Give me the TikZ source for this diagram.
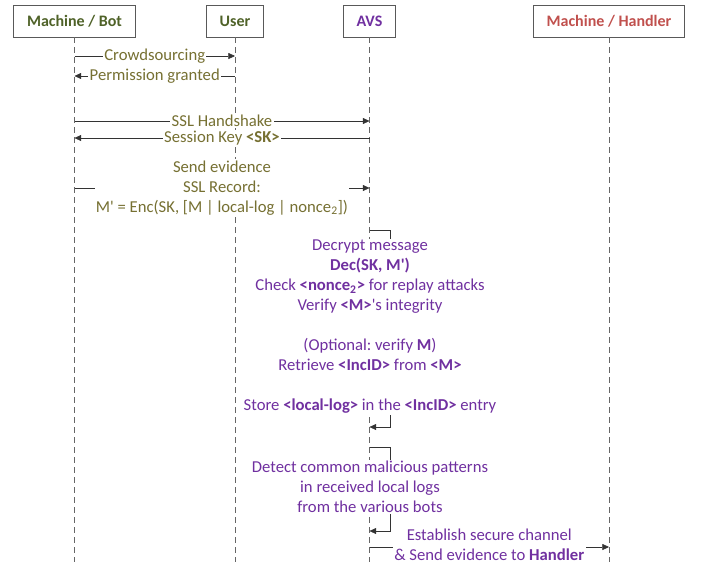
\documentclass[tikz,border=0pt]{standalone}
\usepackage{fontspec}
\setmainfont{Carlito}
\usetikzlibrary{arrows.meta}
\usetikzlibrary{positioning}
\frenchspacing
\definecolor{bothead}{RGB}{79,98,40}
\definecolor{avshead}{RGB}{112,48,160}
\definecolor{handlerhead}{RGB}{192,80,77}
\definecolor{msgtext}{RGB}{118,112,50}
\definecolor{notetext}{RGB}{112,48,160}
\tikzset{head/.style = {draw = gray!70!black, minimum height = 24, inner xsep = 10,
                        font = \fontsize{12}{15}\bfseries}}
\tikzset{life/.style = {gray!80!black, dash pattern = on 4.5pt off 3pt}}
\tikzset{msg/.style = {-{Triangle[length = 5pt, width = 4.5pt]}, black!80}}
\tikzset{lbl/.style = {fill = white, inner sep = 1pt, text = msgtext, align = center}}
\tikzset{note/.style = {fill = white, inner sep = 1pt, text = notetext, align = center}}

\begin{document}
\begin{tikzpicture}[x = 0.75pt, y = -0.75pt, font = \fontsize{12.5}{15}\selectfont]
    \useasboundingbox (0, 0) rectangle (703, 569);
    % participants
    \node [head, text = bothead] (bot) at (74.5, 21) {Machine / Bot};
    \node [head, text = bothead] (user) at (235, 21) {User};
    \node [head, text = avshead] (avs) at (369.5, 21) {AVS};
    \node [head, text = handlerhead] (handler) at (609, 21) {Machine / Handler};
    \draw [life] (bot) -- (bot |- 0, 562);
    \draw [life] (user) -- (user |- 0, 562);
    \draw [life] (avs) -- (avs |- 0, 562);
    \draw [life] (handler) -- (handler |- 0, 562);
    % bot and user
    \draw [msg] (bot |- 0, 56) -- node [lbl] {Crowdsourcing} (user |- 0, 56);
    \draw [msg] (user |- 0, 76) -- node [lbl] {Permission granted} (bot |- 0, 76);
    % bot and avs
    \draw [msg] (bot |- 0, 121) -- node [lbl] {SSL Handshake} (avs |- 0, 121);
    \draw [msg] (avs |- 0, 138) -- node [lbl] {Session Key \textbf{<SK>}} (bot |- 0, 138);
    \draw [msg] (bot |- 0, 188) -- node [lbl] {Send evidence\\SSL Record:\\
        M\textquotesingle{} = Enc(SK, [M | local-log | nonce\textsubscript{2}])} (avs |- 0, 188);
    % avs on its own
    \draw [msg] (avs |- 0, 230) -- ++(21, 0) -- ++(0, 197) -- (avs |- 0, 427);
    \node [note] (check) at (370, 327) {Decrypt message\\
        \textbf{Dec(SK, M\textquotesingle)}\\
        Check \textbf{<nonce\textsubscript{2}>} for replay attacks\\
        Verify \textbf{<M>}\textquotesingle s integrity\\[15pt]
        (Optional: verify \textbf{M})\\
        Retrieve \textbf{<IncID>} from \textbf{<M>}\\[15pt]
        Store \textbf{<local-log>} in the \textbf{<IncID>} entry};
    \draw [msg] (avs |- 0, 447) -- ++(21, 0) -- ++(0, 84) -- (avs |- 0, 531);
    \node [note] (detect) at (370, 487) {Detect common malicious patterns\\
        in received local logs\\from the various bots};
    % avs and handler
    \draw [msg] (avs |- 0, 547) -- node [note, yshift = 2] {Establish secure channel\\
        \& Send evidence to \textbf{Handler}} (handler |- 0, 547);
\end{tikzpicture}
\end{document}
